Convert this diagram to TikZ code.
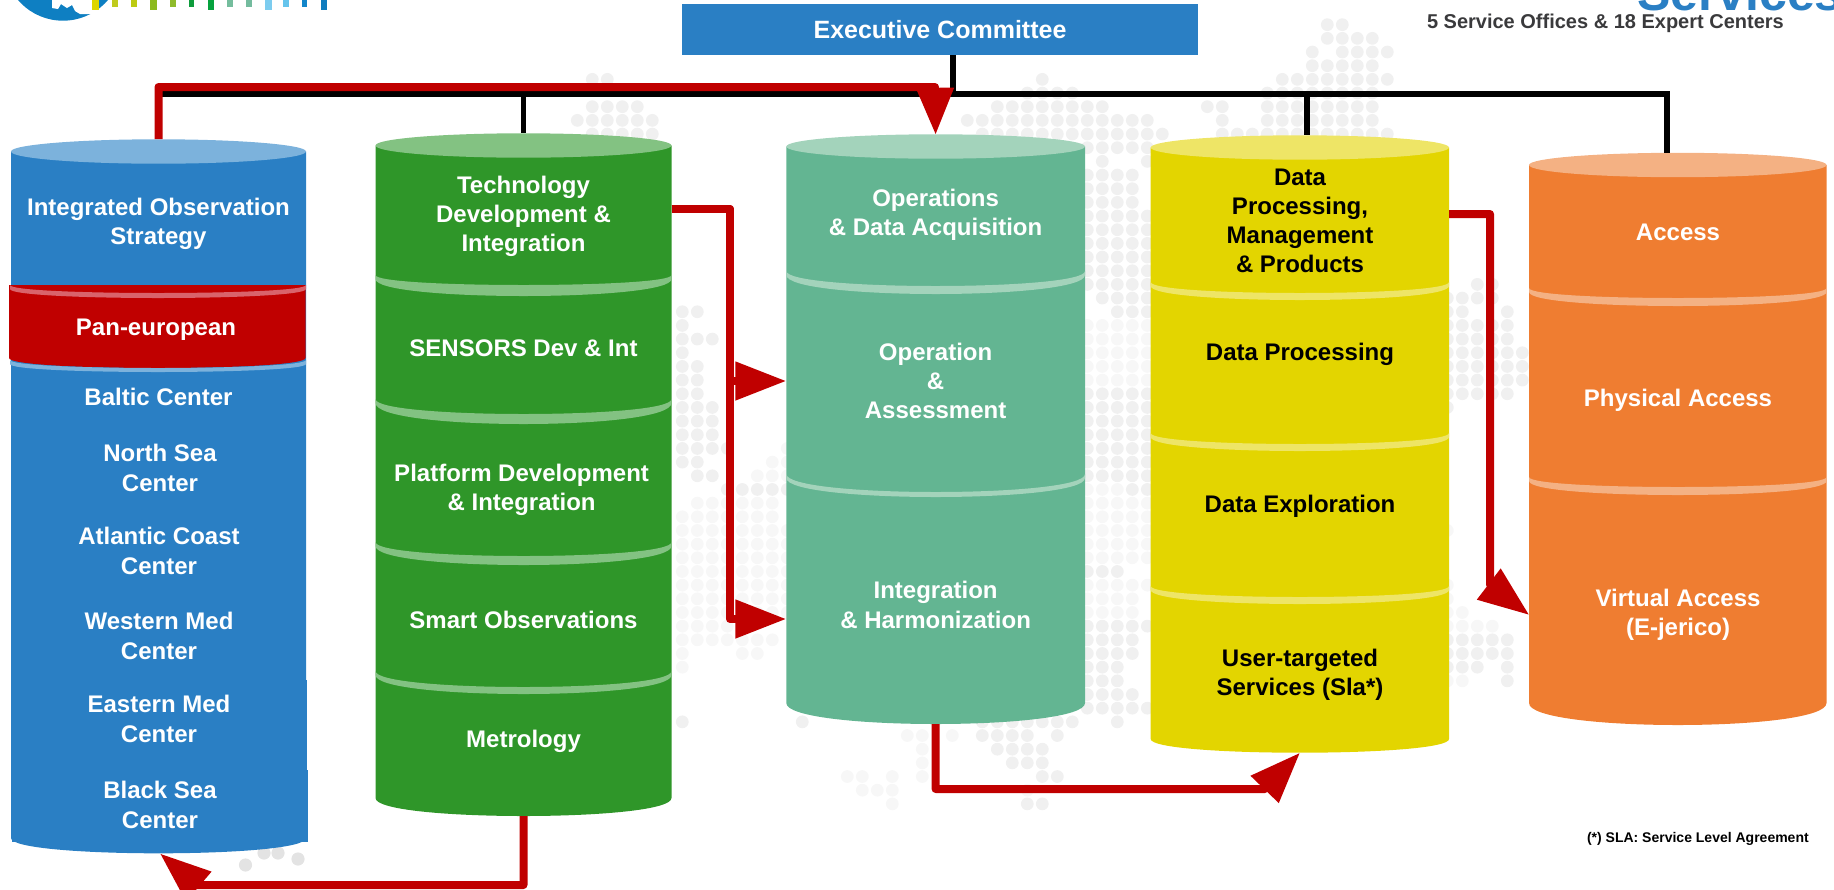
\documentclass[tikz,border=0pt]{standalone}
\usepackage{fontspec}
\setmainfont{Liberation Sans}
\usetikzlibrary{arrows.meta}
\definecolor{colblue}{HTML}{2A7FC4}
\definecolor{lipblue}{HTML}{7CB2DC}
\definecolor{colred}{HTML}{C00000}
\definecolor{lipred}{HTML}{D9636B}
\definecolor{colgreen}{HTML}{2F9629}
\definecolor{lipgreen}{HTML}{83C282}
\definecolor{colteal}{HTML}{63B592}
\definecolor{lipteal}{HTML}{A3D3BB}
\definecolor{colyellow}{HTML}{E3D500}
\definecolor{lipyellow}{HTML}{EEE566}
\definecolor{colorange}{HTML}{EF7D31}
\definecolor{liporange}{HTML}{F4B183}
\definecolor{dotA}{HTML}{F0F0F0}
\definecolor{dotB}{HTML}{F7F7F7}
\definecolor{colglobe}{HTML}{0E7FC2}
\definecolor{colsub}{HTML}{3A3A3C}

\begin{document}
\begin{tikzpicture}[x=0.5pt,y=-0.5pt]
	\tikzstyle{every node}=[inner sep=0pt,outer sep=0pt,align=center]
	\tikzstyle{seg}=[font=\bfseries\fontsize{12}{14.6}\selectfont,text=white]
	\tikzstyle{bluecol}=[seg,minimum width=147.5pt]
	\tikzstyle{greencol}=[seg,minimum width=148pt]
	\tikzstyle{tealcol}=[seg,minimum width=149.35pt]
	\tikzstyle{yellowcol}=[seg,minimum width=149.15pt,text=black]
	\tikzstyle{orangecol}=[seg,minimum width=148.75pt]
	\tikzstyle{blackline}=[line width=2.75pt,black]
	\tikzstyle{redline}=[line width=4pt,colred,line join=round]
	\tikzstyle{redhead}=[redline,-{Triangle[length=25.5pt,width=18.5pt]}]
	\useasboundingbox (0,0) rectangle (1834,889);
	\clip (0,0) rectangle (1834,889);

	% map of dots behind the columns
	\foreach \rowno/\cfrom/\cto/\shade in {
		1/88/89/dotA,2/88/91/dotA,3/87/87/dotA,3/89/92/dotA,4/87/91/dotA,5/85/92/dotA,
		6/84/91/dotA,7/80/81/dotA,7/84/91/dotA,8/81/81/dotA,8/84/91/dotA,9/81/92/dotA,
		5/39/40/dotA,7/39/42/dotA,8/38/43/dotA,9/39/43/dotA,
		5/69/69/dotA,6/68/71/dotA,7/66/73/dotA,8/64/76/dotA,9/65/77/dotA,
		10/72/76/dotA,11/73/73/dotA,11/76/76/dotA,12/72/75/dotA,13/72/75/dotA,14/72/75/dotA,
		15/72/76/dotA,16/72/76/dotA,17/72/76/dotA,18/72/76/dotA,19/72/76/dotA,20/72/76/dotA,
		21/73/76/dotA,22/74/76/dotA,23/72/76/dotB,24/72/76/dotB,25/72/76/dotB,26/72/76/dotB,
		27/72/76/dotB,28/72/76/dotA,29/72/76/dotA,30/72/76/dotA,31/72/76/dotA,32/72/76/dotA,
		33/72/76/dotA,34/72/76/dotA,35/75/76/dotA,35/72/74/dotB,36/72/76/dotB,37/72/76/dotB,
		38/72/76/dotB,39/72/76/dotB,40/72/76/dotB,41/72/74/dotA,42/72/76/dotB,43/72/75/dotB,
		44/72/75/dotB,45/72/76/dotA,46/72/75/dotA,47/72/75/dotA,48/72/74/dotA,49/72/74/dotA,
		50/72/75/dotA,51/72/76/dotA,52/74/74/dotA,
		22/45/46/dotA,23/45/45/dotA,24/45/47/dotA,25/45/45/dotA,26/45/46/dotA,27/45/46/dotA,
		28/45/46/dotA,29/45/47/dotA,30/45/47/dotA,31/45/47/dotA,32/45/48/dotA,32/52/52/dotB,
		33/45/46/dotA,33/51/52/dotB,34/46/47/dotA,34/50/52/dotB,35/48/52/dotA,36/46/51/dotB,
		37/45/51/dotB,38/45/52/dotB,39/45/52/dotB,40/45/52/dotB,41/45/52/dotB,42/45/52/dotB,
		43/45/52/dotB,44/45/52/dotB,45/45/48/dotB,46/45/51/dotB,47/45/45/dotB,47/49/50/dotB,
		48/45/45/dotB,52/45/45/dotA,
		20/98/99/dotA,21/96/99/dotA,22/96/97/dotA,22/100/100/dotA,23/96/100/dotA,24/96/100/dotA,
		25/96/101/dotA,26/96/101/dotA,27/96/101/dotA,28/96/100/dotA,29/96/96/dotA,38/96/96/dotB,
		42/96/96/dotB,43/96/96/dotB,44/96/97/dotB,45/96/99/dotB,46/96/100/dotA,47/96/100/dotA,
		48/96/98/dotA,48/100/100/dotA,49/96/97/dotB,49/100/100/dotA,
		52/65/71/dotA,52/53/53/dotA,53/60/61/dotB,53/63/63/dotB,53/65/68/dotA,53/70/70/dotA,
		54/61/61/dotB,54/66/69/dotA,55/61/61/dotB,55/67/69/dotA,56/56/57/dotB,56/59/59/dotB,
		56/61/61/dotB,56/69/70/dotA,57/57/59/dotB,57/68/68/dotB,58/59/59/dotB,58/68/69/dotA}
		\foreach \cno in {\cfrom,...,\cto}
			\fill[\shade] ({7.3+15*\cno},{11+13.67*\rowno}) circle (6.4);
	\foreach \spotx/\spoty in {245.5/865,264/853,278/853,298/859}
		\fill[black!11] (\spotx,\spoty) circle (6.6);

	% logo
	\fill[colglobe] (63,-38.6) circle (59.3);
	\fill[white] (52,-1) -- (52,8) -- (58,9) -- (61,4) -- (67,8) -- (72,5) -- (75,11) -- (80,14) -- (97,14) -- (97,-1) -- cycle;
	\foreach \barl/\barr/\barh/\barcol in {92.3/99.3/10/DDD600,112/118/7.3/BFCB1E,131/137/7.3/BCCB12,150/157/10/8CBA1E,170/176/7.3/8FBB2C,189/194/7.3/0E9C3C,208/214/10/06A23E,227/233/7.3/75BD9D,246/252/7.3/74BB9E,265/272/10/7CCCEF,283/289/7.3/65C4EC,302/307/7.3/1286CA,321/327/10/0F7CBE}{
		\definecolor{barfill}{HTML}{\barcol}
		\fill[barfill] (\barl,0) rectangle (\barr,\barh);
	}

	% column bodies
	\foreach \xl/\xr/\ytop/\yside/\ybot/\bodycol/\topcol in {
		11/306/151.5/838/853.3/colblue/lipblue,
		375.5/671.5/145.5/798/816/colgreen/lipgreen,
		786.3/1085/146.5/703/724/colteal/lipteal,
		1150.7/1449/147.5/739/752.7/colyellow/lipyellow,
		1529/1826.5/165/703/725/colorange/liporange}{
		\fill[\bodycol] (\xl,\ytop) -- (\xl,\yside) .. controls (\xl,{\yside+(\ybot-\yside)*4/3}) and (\xr,{\yside+(\ybot-\yside)*4/3}) .. (\xr,\yside) -- (\xr,\ytop) -- cycle;
		\fill[\topcol] ({(\xl+\xr)/2},\ytop) ellipse [x radius={(\xr-\xl)/2},y radius=12.2];
	}
	\fill[colblue] (12,680) rectangle (307,842);
	\fill[colblue] (14,770) rectangle (308,842);

	% red band of the blue column
	\fill[colred] (9,285) -- (9,358) .. controls (9,371.3) and (305.5,371.3) .. (305.5,358) -- (305.5,285) -- cycle;

	% rims between the segments
	\foreach \xl/\xr/\ytip/\upd/\lowd/\lipcol in {
		10/306/285/8/13/lipred,10/306/360/8/12/lipblue,
		375.5/671.5/275/10/21/lipgreen,375.5/671.5/399/15/25/lipgreen,375.5/671.5/542/14/23/lipgreen,375.5/671.5/671/16/23/lipgreen,
		786.3/1085/271/15/23/lipteal,786.3/1085/474/18/23/lipteal,
		1150.7/1449/282/11/18/lipyellow,1150.7/1449/433/11/18/lipyellow,1150.7/1449/586/11/18/lipyellow,
		1529/1826.5/288/10/18/liporange,1529/1826.5/477/10/18/liporange}{
		\fill[\lipcol] (\xl,\ytip) .. controls (\xl,{\ytip+\upd*4/3}) and (\xr,{\ytip+\upd*4/3}) .. (\xr,\ytip) -- (\xr,\ytip+4) .. controls (\xr,{\ytip+4+(\lowd-4)*4/3}) and (\xl,{\ytip+4+(\lowd-4)*4/3}) .. (\xl,\ytip+4) -- cycle;
	}

	\node[fill=colblue,minimum width=258pt,minimum height=25.5pt,text=white,font=\bfseries\fontsize{12.5}{15}\selectfont] (execom) at (940,29.5) {Executive Committee};
	\node[anchor=base west,text=colblue,font=\bfseries\fontsize{25}{25}\selectfont] (services) at (1637,10) {Services};
	\node[anchor=west,text=colsub,font=\bfseries\fontsize{10}{12}\selectfont] (offices) at (1427,23) {5 Service Offices \& 18 Expert Centers};
	\node[anchor=west,font=\bfseries\fontsize{7}{9}\selectfont] (slanote) at (1587,839) {(*) SLA: Service Level Agreement};

	\node[bluecol,minimum height=85pt] (strategy) at (158.5,224) {Integrated Observation\\Strategy};
	\node[bluecol] (paneuro) at (156,330) {Pan-european};
	\node[bluecol] (baltic) at (158.5,397) {Baltic Center};
	\node[bluecol] (northsea) at (160,468) {North Sea\\Center};
	\node[bluecol] (atlantic) at (159,551) {Atlantic Coast\\Center};
	\node[bluecol] (westmed) at (159,636) {Western Med\\Center};
	\node[bluecol] (eastmed) at (159,719) {Eastern Med\\Center};
	\node[bluecol,minimum height=48.5pt] (blacksea) at (160,805) {Black Sea\\Center};

	\node[greencol,minimum height=83.4pt] (tech) at (523.5,216.4) {Technology\\Development \&\\Integration};
	\node[greencol] (sensors) at (523.5,348) {SENSORS Dev \& Int};
	\node[greencol] (platform) at (521.6,490) {Platform Development\\\& Integration};
	\node[greencol] (smart) at (523.5,620) {Smart Observations};
	\node[greencol,minimum height=74.5pt] (metrology) at (523.5,741.5) {Metrology};

	\node[tealcol,minimum height=80.2pt] (ops) at (935.6,215) {Operations\\\& Data Acquisition};
	\node[tealcol] (assessment) at (935.6,381) {Operation\\\&\\Assessment};
	\node[tealcol,minimum height=119pt] (harmon) at (935.6,605) {Integration\\\& Harmonization};

	\node[yellowcol,minimum height=86pt] (dpm) at (1300,221) {Data\\Processing,\\Management\\\& Products};
	\node[yellowcol] (dataproc) at (1300,354.5) {Data Processing};
	\node[yellowcol] (dataexpl) at (1300,506.4) {Data Exploration};
	\node[yellowcol,minimum height=77.7pt] (usertarget) at (1300,675) {User-targeted\\Services (Sla*)};

	\node[orangecol,minimum height=79.7pt] (access) at (1678,232.7) {Access};
	\node[orangecol] (physical) at (1678,400) {Physical Access};
	\node[orangecol] (virtual) at (1678,615) {Virtual Access\\(E-jerico)};

	\coordinate (trunk) at (953,94);
	\draw[blackline] ([xshift=6.5pt]execom.south) -- (trunk);
	\draw[blackline] (trunk) -- (strategy.north |- trunk);
	\draw[blackline] (trunk) -| (tech.north);
	\draw[blackline] (trunk) -| ([xshift=3.5pt]dpm.north);
	\draw[blackline] (trunk) -| ([xshift=-5.5pt]access.north);

	\draw[redline,-{Triangle[length=23.5pt,width=18pt]}] (strategy.north) |- (935,87) -- (ops.north);
	\draw[redhead] ([yshift=3.7pt]tech.east) -| (730,381) -- (assessment.west);
	\draw[redhead] ([yshift=3.7pt]tech.east) -| (730,619) -- ([yshift=-7pt]harmon.west);
	\draw[redhead] ([yshift=3.5pt]dpm.east) -| (1490,585) -- (virtual.west);
	\draw[redhead] (harmon.south) |- (1265,789) -- (usertarget.south);
	\draw[redhead] (metrology.south) |- (197,885) -- (blacksea.south);
\end{tikzpicture}
\end{document}
